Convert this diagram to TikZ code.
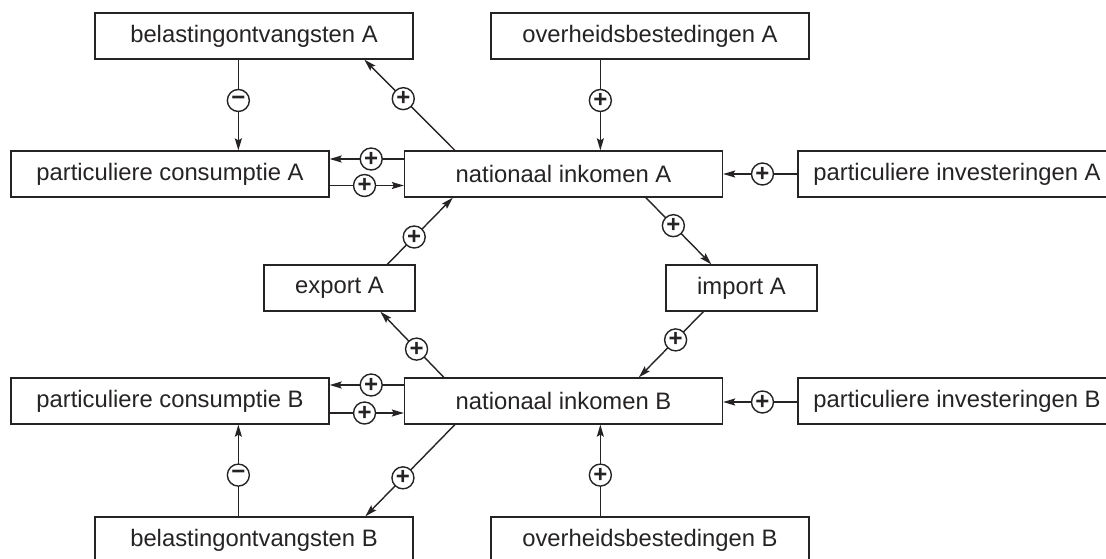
\documentclass[tikz,border=0pt]{standalone}
\usepackage{fontspec}
\setmainfont{Liberation Sans}
\usetikzlibrary{arrows.meta,calc}
\definecolor{ink}{HTML}{262324}
\tikzset{
  box/.style={draw=ink, line width=1.3pt, minimum width=318pt, minimum height=46pt,
    inner sep=0pt, text=ink, font=\fontsize{23.8}{26}\selectfont, fill=white},
  smallbox/.style={box, minimum width=151pt},
  conn/.style={draw=ink, line width=1.4pt, -{Stealth[length=12pt,width=7pt,inset=2pt]}},
  sign/.style={circle, draw=ink, line width=1.4pt, fill=white, minimum size=22pt,
    inner sep=0pt, text=ink, font=\fontsize{24}{24}\selectfont\bfseries}
}
\begin{document}
\begin{tikzpicture}[x=1pt,y=-1pt]
\useasboundingbox (0,0) rectangle (1106,558);
\clip (0,0) rectangle (1106,558);
\fill[white] (0,0) rectangle (1106,558);
% nodes
\node[box] (belA) at (254,36) {belastingontvangsten A};
\node[box] (ovA) at (650,36) {overheidsbestedingen A};
\node[box] (consA) at (170,174) {particuliere consumptie A};
\node[box] (natA) at (563.5,174) {nationaal inkomen A};
\node[box] (invA) at (957,174) {particuliere investeringen A};
\node[smallbox] (expA) at (339.5,288) {export A};
\node[smallbox] (impA) at (741.5,288) {import A};
\node[box] (consB) at (170,401) {particuliere consumptie B};
\node[box] (natB) at (563.5,401) {nationaal inkomen B};
\node[box] (invB) at (957,401) {particuliere investeringen B};
\node[box] (belB) at (254,540) {belastingontvangsten B};
\node[box] (ovB) at (650,540) {overheidsbestedingen B};
% top verticals
\draw[conn] ($(belA.south west)+(144,0)$) -- node[sign,pos=0.45]{−} ($(belA.south west |- consA.north)+(144,0)$);
\draw[conn] ($(ovA.south west)+(110,0)$) -- node[sign,pos=0.45]{+} ($(ovA.south west |- natA.north)+(110,0)$);
% diagonal natA -> belA
\draw[conn] ($(natA.north west)+(51,0)$) -- node[sign,pos=0.57]{+} ($(belA.south west)+(270,0)$);
% horizontals row A
\draw[conn] ($(natA.west)+(0,-15)$) -- node[sign,pos=0.44]{+} ($(consA.east)+(0,-15)$);
\draw[conn] ($(consA.east)+(0,11.5)$) -- node[sign,pos=0.47]{+} ($(natA.west)+(0,11.5)$);
\draw[conn] (invA.west) -- node[sign,pos=0.47]{+} (natA.east);
% export / import
\draw[conn] ($(expA.north west)+(124,0)$) -- node[sign,pos=0.41]{+} ($(natA.south west)+(49,0)$);
\draw[conn] ($(natA.south west)+(242,0)$) -- node[sign,pos=0.42]{+} ($(impA.north west)+(46,0)$);
\draw[conn] ($(natB.north west)+(40,0)$) -- node[sign,pos=0.43]{+} ($(expA.south west)+(117,0)$);
\draw[conn] ($(impA.south west)+(38,0)$) -- node[sign,pos=0.43]{+} ($(natB.north west)+(235,0)$);
% horizontals row B
\draw[conn] ($(natB.west)+(0,-16)$) -- node[sign,pos=0.44]{+} ($(consB.east)+(0,-16)$);
\draw[conn] ($(consB.east)+(0,12)$) -- node[sign,pos=0.47]{+} ($(natB.west)+(0,12)$);
\draw[conn] ($(invB.west)+(0,1)$) -- node[sign,pos=0.47]{+} ($(natB.east)+(0,1)$);
% bottom verticals
\draw[conn] ($(belB.north west)+(144,0)$) -- node[sign,pos=0.45]{−} ($(belB.north west |- consB.south)+(144,0)$);
\draw[conn] ($(ovB.north west)+(110,0)$) -- node[sign,pos=0.45]{+} ($(ovB.north west |- natB.south)+(110,0)$);
% diagonal natB -> belB
\draw[conn] ($(natB.south west)+(51,0)$) -- node[sign,pos=0.58]{+} ($(belB.north west)+(271,0)$);
\end{tikzpicture}
\end{document}
